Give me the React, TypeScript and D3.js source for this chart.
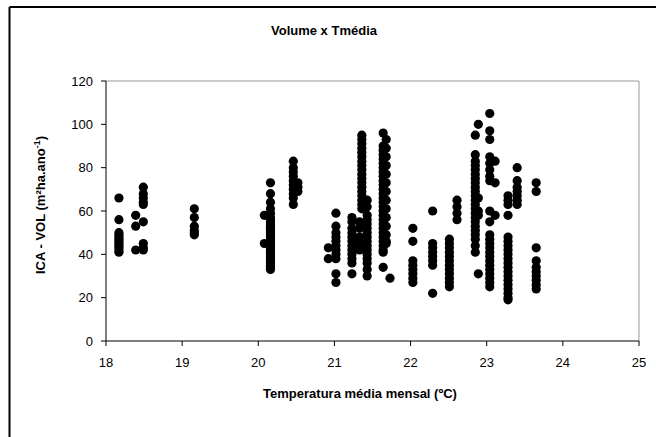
import React from "react";
import * as d3 from "d3";

// Temperature (°C) of each column of points
const temps: number[] = [
  18.17, 18.39, 18.49, 19.16, 20.08, 20.16, 20.46, 20.52,
  20.92, 21.02, 21.23, 21.33, 21.36, 21.43, 21.64, 21.68, 21.73,
  22.03, 22.29, 22.51, 22.61, 22.85, 22.89, 23.04, 23.11, 23.28, 23.4, 23.65,
];

// ICA - VOL values for each column (same order as temps)
const c18_17 = [66, 56, 50, 49, 48, 47, 46, 45, 44, 43, 42, 41];
const c18_39 = [58, 53, 42];
const c18_49 = [71, 68, 66, 64, 63, 55, 45, 43, 42];
const c19_16 = [61, 57, 53, 51, 50, 49];
const c20_08 = [58, 45];
const c20_16 = [73, 68, 64, 61, 59, 57, 56, 55, 54, 53, 52, 51, 50, 49, 48, 47, 46, 45, 44, 43, 42, 41, 40, 39, 38, 37, 36, 35, 34, 33];
const c20_46 = [83, 80, 78, 76, 74, 72, 70, 68, 66, 63];
const c20_52 = [73, 71, 69];
const c20_92 = [43, 38];
const c21_02 = [59, 53, 50, 48, 46, 44, 42, 40, 38, 31, 27];
const c21_23 = [57, 55, 52, 50, 48, 46, 44, 42, 40, 38, 36, 31];
const c21_33 = [55, 52, 48, 45, 42];
const c21_36 = [95, 93, 91, 89, 87, 85, 83, 81, 79, 77, 75, 73, 71, 69, 67, 65, 63, 61];
const c21_43 = [65, 62, 58, 56, 54, 52, 50, 48, 46, 44, 42, 40, 38, 36, 33, 30];
const c21_64 = [96, 90, 88, 86, 84, 82, 80, 78, 76, 74, 72, 70, 68, 66, 64, 62, 60, 58, 56, 54, 52, 50, 48, 46, 44, 42, 41, 34];
const c21_68 = [93, 89, 85, 81, 77, 73, 69, 65, 61, 57, 53, 49, 46, 45];
const c21_73 = [29];
const c22_03 = [52, 46, 37, 35, 33, 31, 29, 27];
const c22_29 = [60, 45, 43, 41, 39, 37, 35, 22];
const c22_51 = [47, 45, 43, 41, 39, 37, 35, 33, 31, 29, 27, 25];
const c22_61 = [65, 62, 59, 56];
const c22_85 = [95, 86, 83, 81, 79, 77, 75, 73, 71, 69, 67, 65, 63, 61, 59, 57, 55, 53, 51, 49, 47, 44, 41];
const c22_89 = [100, 66, 60, 58, 31];
const c23_04 = [105, 97, 93, 85, 82, 79, 76, 74, 60, 55, 49, 47, 45, 43, 41, 39, 37, 35, 33, 31, 29, 27, 25];
const c23_11 = [83, 73, 58];
const c23_28 = [67, 65, 63, 58, 48, 46, 44, 42, 40, 38, 36, 34, 32, 30, 28, 26, 24, 22, 20, 19];
const c23_40 = [80, 74, 71, 69, 67, 65, 63];
const c23_65 = [73, 69, 43, 37, 34, 32, 30, 28, 26, 24];

const columns: number[][] = [
  c18_17, c18_39, c18_49, c19_16, c20_08, c20_16, c20_46, c20_52,
  c20_92, c21_02, c21_23, c21_33, c21_36, c21_43, c21_64, c21_68, c21_73,
  c22_03, c22_29, c22_51, c22_61, c22_85, c22_89, c23_04, c23_11, c23_28, c23_40, c23_65,
];

const xTicks = [18, 19, 20, 21, 22, 23, 24, 25];
const yTicks = [0, 20, 40, 60, 80, 100, 120];

const W = 656;
const H = 437;
const left = 106;
const right = 639;
const top = 81;
const bottom = 341;

export default function App() {
  const x = d3.scaleLinear().domain([18, 25]).range([left, right]);
  const y = d3.scaleLinear().domain([0, 120]).range([bottom, top]);
  const points: { t: number; v: number }[] = [];
  temps.forEach((t, i) => columns[i].forEach((v) => points.push({ t, v })));
  const font = "'Liberation Sans', Arial, sans-serif";

  return (
    <svg
      width={W}
      height={H}
      style={{ position: "absolute", left: 0, top: 0, background: "#fff" }}
      fontFamily={font}
    >
      <rect x={0} y={0} width={W} height={H} fill="#fff" />
      {/* outer chart border */}
      <line x1={9.5} y1={7} x2={W + 2} y2={7} stroke="#000" strokeWidth={2} />
      <line x1={9.5} y1={7} x2={9.5} y2={H + 2} stroke="#000" strokeWidth={2} />

      {/* plot area border */}
      <line x1={left} y1={top} x2={right} y2={top} stroke="#999" strokeWidth={1} />
      <line x1={right} y1={top} x2={right} y2={bottom} stroke="#999" strokeWidth={1} />

      {/* title */}
      <text x={324} y={35} textAnchor="middle" fontSize={13} fontWeight="bold" fill="#000">
        Volume x Tmédia
      </text>

      {/* points */}
      {points.map((p, i) => (
        <circle key={i} cx={x(p.t)} cy={y(p.v)} r={4.6} fill="#000" />
      ))}

      {/* y axis */}
      <line x1={left} y1={top} x2={left} y2={bottom} stroke="#000" strokeWidth={1} />
      {yTicks.map((t) => (
        <g key={"y" + t}>
          <line x1={left - 5} x2={left} y1={y(t)} y2={y(t)} stroke="#000" />
          <text x={93} y={y(t) + 4.5} textAnchor="end" fontSize={13} fill="#000">
            {t}
          </text>
        </g>
      ))}

      {/* x axis */}
      <line x1={left} y1={bottom} x2={right} y2={bottom} stroke="#000" strokeWidth={1} />
      {xTicks.map((t) => (
        <g key={"x" + t}>
          <line x1={x(t)} x2={x(t)} y1={bottom} y2={bottom + 5} stroke="#000" />
          <text x={x(t)} y={367} textAnchor="middle" fontSize={13} fill="#000">
            {t}
          </text>
        </g>
      ))}

      {/* axis titles */}
      <text x={360} y={398} textAnchor="middle" fontSize={13} fontWeight="bold" fill="#000">
        Temperatura média mensal (ºC)
      </text>
      <text
        transform={`translate(45, 205) rotate(-90)`}
        textAnchor="middle"
        fontSize={13}
        fontWeight="bold"
        fill="#000"
      >
        ICA - VOL (m²ha.ano<tspan dy={-5} fontSize={9}>-1</tspan><tspan dy={5}>)</tspan>
      </text>
    </svg>
  );
}
